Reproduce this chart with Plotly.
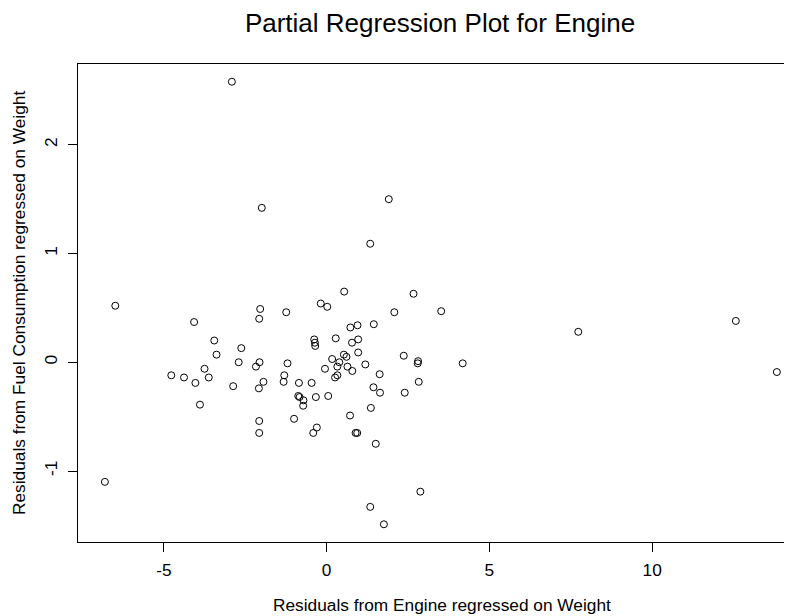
import plotly.graph_objects as go

# Residuals from Engine regressed on Weight
x_resid = [-2.91, -1.99, 1.91, 1.34, -6.49, 0.54, 2.67, -0.18, 0.02, -2.04,
           -1.24, 2.08, 3.52, -2.07, -4.07, 7.73, 12.57, 1.45, 0.73, 0.95,
           -3.45, -0.38, -0.36, -0.35, 0.28, 0.97, 0.78, -2.62, -3.38, 0.53,
           0.97, 0.61, 0.17, 2.37, 2.81, 2.80, 4.18, -2.70, -2.06, -1.20,
           0.39, 0.33, -2.17, 0.64, 1.19, -0.05, 0.79, -3.75, 1.63, 13.83,
           -4.77, -4.38, -3.62, -1.30, -1.32, -1.94, -0.85, -0.46, 0.26, 0.33,
           2.83, -4.03, -2.87, -2.08, 1.44, 1.64, 2.40, -0.87, -0.83, -0.33,
           0.05, -0.71, -0.72, -3.89, 1.36, 0.72, -1.00, -2.07, -0.30, -0.41,
           -2.07, 0.89, 0.94, 1.51, -6.81, 2.88, 1.34, 1.76]
# Residuals from Fuel Consumption regressed on Weight
y_resid = [2.58, 1.42, 1.50, 1.09, 0.52, 0.65, 0.63, 0.54, 0.51, 0.49,
           0.46, 0.46, 0.47, 0.40, 0.37, 0.28, 0.38, 0.35, 0.32, 0.34,
           0.20, 0.21, 0.18, 0.15, 0.22, 0.21, 0.18, 0.13, 0.07, 0.07,
           0.09, 0.05, 0.03, 0.06, 0.01, -0.01, -0.01, 0.00, 0.00, -0.01,
           0.00, -0.04, -0.04, -0.04, -0.02, -0.06, -0.08, -0.06, -0.11, -0.09,
           -0.12, -0.14, -0.14, -0.12, -0.18, -0.18, -0.19, -0.19, -0.14, -0.12,
           -0.18, -0.19, -0.22, -0.24, -0.23, -0.28, -0.28, -0.31, -0.32, -0.32,
           -0.31, -0.35, -0.40, -0.39, -0.42, -0.49, -0.52, -0.54, -0.60, -0.65,
           -0.65, -0.65, -0.65, -0.75, -1.10, -1.19, -1.33, -1.49]

x_ticks = [-5, 0, 5, 10]
y_ticks = [-1, 0, 1, 2]

title_text = "Partial Regression Plot for Engine"
x_title = "Residuals from Engine regressed on Weight"
y_title = "Residuals from Fuel Consumption regressed on Weight"

FONT = "Liberation Sans, Arial, sans-serif"

fig = go.Figure()
fig.add_trace(go.Scatter(
    x=x_resid, y=y_resid, mode="markers",
    marker=dict(symbol="circle-open", size=7, color="black",
                line=dict(width=1, color="black")),
    showlegend=False, hoverinfo="x+y"))

# The page body adds an 8px offset; margins compensate for it.
fig.update_layout(
    width=792, height=616,
    margin=dict(l=70, r=8, t=56, b=82),
    paper_bgcolor="white", plot_bgcolor="white",
    font=dict(family=FONT, size=17.3, color="black"),
    title=dict(text=title_text, font=dict(family=FONT, size=26, color="black"),
               xref="container", yref="container",
               x=432 / 792, xanchor="center", y=1 - 15 / 616, yanchor="middle"),
    xaxis=dict(range=[-7.636, 14.295], tickvals=x_ticks, ticktext=[str(v) for v in x_ticks],
               ticks="outside", ticklen=9, tickwidth=1, tickcolor="black",
               showline=True, linecolor="black", linewidth=1, mirror=True,
               showgrid=False, zeroline=False, ticklabelstandoff=3,
               tickfont=dict(size=17.3)),
    yaxis=dict(range=[-1.653, 2.743], tickvals=y_ticks, ticktext=[str(v) for v in y_ticks],
               ticks="outside", ticklen=9, tickwidth=1, tickcolor="black",
               showline=True, linecolor="black", linewidth=1,
               showgrid=False, zeroline=False, tickangle=-90, ticklabelstandoff=4,
               tickfont=dict(size=17.3)),
    annotations=[
        dict(text=x_title, xref="paper", yref="paper", x=(442 - 78) / 714, y=0,
             xanchor="center", yanchor="middle", yshift=-63, showarrow=False,
             font=dict(size=17.3)),
        dict(text=y_title, xref="paper", yref="paper", x=0, y=0.5,
             xanchor="center", yanchor="middle", xshift=-59, textangle=-90,
             showarrow=False, font=dict(size=17.3)),
    ],
)

fig.write_html("out.html")
